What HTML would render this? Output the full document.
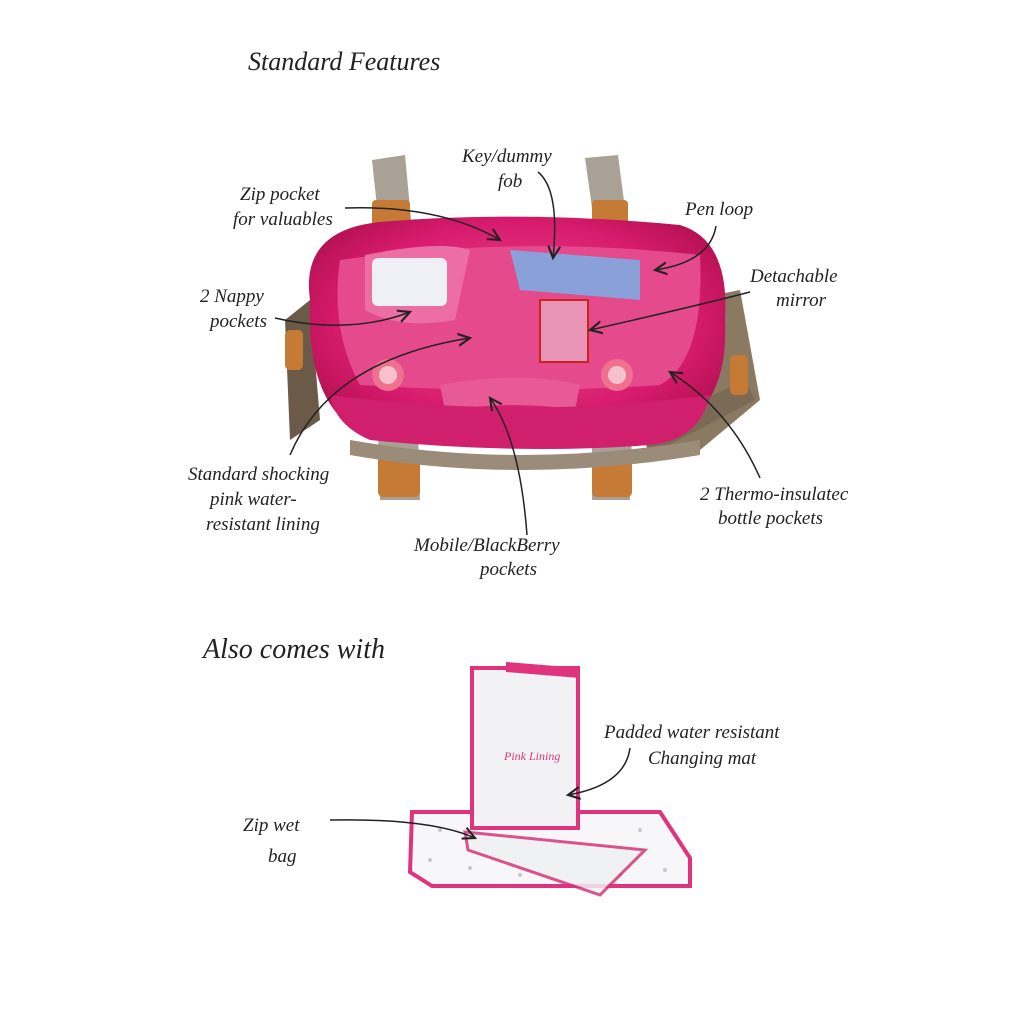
<!DOCTYPE html>
<html><head><meta charset="utf-8"><style>
html,body{margin:0;padding:0;background:#fff;}
svg{display:block}
text{font-family:"Liberation Serif",serif;font-style:italic;fill:#222;}
</style></head><body>
<svg width="1024" height="1024" viewBox="0 0 1024 1024" xmlns="http://www.w3.org/2000/svg">
<defs>
<marker id="a" markerWidth="10" markerHeight="10" refX="8" refY="5" orient="auto"><path d="M0,1 L8,5 L0,9" fill="none" stroke="#222" stroke-width="1.4"/></marker>
<radialGradient id="pk" cx="50%" cy="45%" r="60%"><stop offset="0" stop-color="#e8508e"/><stop offset="0.7" stop-color="#d81b6e"/><stop offset="1" stop-color="#b0104f"/></radialGradient>
</defs>
<rect width="1024" height="1024" fill="#fff"/>
<text x="248" y="70" font-size="26">Standard Features</text>
<text x="203" y="658" font-size="28">Also comes with</text>

<path d="M372,160 L405,155 L412,230 L380,235 Z" fill="#a9a196"/>
<path d="M585,158 L618,155 L628,232 L596,236 Z" fill="#a9a196"/>
<rect x="372" y="200" width="38" height="30" rx="4" fill="#c57a35"/>
<rect x="592" y="200" width="36" height="34" rx="4" fill="#c57a35"/>
<path d="M690,300 L740,290 L760,400 L700,450 L660,455 L650,420 L710,390 Z" fill="#8a7a62"/>
<path d="M640,430 L745,380 L755,400 L650,455 Z" fill="#7b6a55"/>
<path d="M285,320 L310,300 L320,420 L290,440 Z" fill="#6b5a48"/>
<rect x="285" y="330" width="18" height="40" rx="5" fill="#c57a35"/>
<rect x="730" y="355" width="18" height="40" rx="5" fill="#c57a35"/>
<path d="M378,430 L418,430 L420,500 L380,500 Z" fill="#a9a196"/>
<path d="M592,430 L632,430 L630,500 L592,500 Z" fill="#a9a196"/>
<rect x="378" y="455" width="42" height="42" rx="5" fill="#c57a35"/>
<rect x="592" y="455" width="40" height="42" rx="5" fill="#c57a35"/>
<path d="M350,440 Q520,470 700,440 L700,455 Q520,485 350,455 Z" fill="#9a8c78"/>
<path d="M310,300 Q300,230 380,222 Q520,210 680,225 Q730,240 725,320 Q730,420 650,440 Q520,455 380,440 Q305,420 310,300 Z" fill="url(#pk)"/>
<path d="M340,260 Q520,235 700,255 Q705,360 660,385 Q520,395 360,385 Q330,330 340,260 Z" fill="#e44a8c"/>
<path d="M365,255 Q440,240 470,250 L455,320 Q400,330 365,310 Z" fill="#ed6ea4"/>
<rect x="372" y="258" width="75" height="48" rx="6" fill="#eef0f6"/>
<path d="M510,250 L640,260 L640,300 L520,290 Z" fill="#8aa0d8"/>
<rect x="540" y="300" width="48" height="62" fill="#e894b6" stroke="#c22" stroke-width="2"/>
<circle cx="388" cy="375" r="16" fill="#f07090"/><circle cx="388" cy="375" r="9" fill="#f6c0cc"/>
<circle cx="617" cy="375" r="16" fill="#f07090"/><circle cx="617" cy="375" r="9" fill="#f6c0cc"/>
<path d="M440,385 Q520,370 580,385 L575,410 Q520,400 445,410 Z" fill="#e85a96"/>
<path d="M330,395 Q520,420 710,395 Q700,440 650,445 Q520,455 370,440 Q335,425 330,395 Z" fill="#d01f6c"/>

<!-- changing mat -->
<path d="M412,812 L660,812 L690,858 L690,886 L432,886 L410,872 Z" fill="#f7f7f9" stroke="#e0337e" stroke-width="4"/>
<g fill="#c8c8cc">
<circle cx="440" cy="830" r="2"/><circle cx="470" cy="868" r="2"/><circle cx="520" cy="875" r="2"/><circle cx="640" cy="830" r="2"/><circle cx="665" cy="870" r="2"/><circle cx="620" cy="875" r="2"/><circle cx="430" cy="860" r="2"/>
</g>
<path d="M465,832 L645,850 L600,895 L468,850 Z" fill="#eef0f2" stroke="#d7357a" stroke-width="3" opacity="0.85"/>
<rect x="472" y="668" width="106" height="160" fill="#f2f2f4" stroke="#e0337e" stroke-width="4"/>
<path d="M506,662 L580,668 L580,678 L506,672 Z" fill="#e0337e"/>
<text x="504" y="760" font-size="12" style="fill:#e0337e">Pink Lining</text>

<g font-size="19">
<text x="462" y="162">Key/dummy</text><text x="498" y="187">fob</text>
<text x="240" y="200">Zip pocket</text><text x="233" y="225">for valuables</text>
<text x="685" y="215">Pen loop</text>
<text x="750" y="282">Detachable</text><text x="776" y="306">mirror</text>
<text x="200" y="302">2 Nappy</text><text x="210" y="327">pockets</text>
<text x="188" y="480">Standard shocking</text><text x="210" y="505">pink water-</text><text x="206" y="530">resistant lining</text>
<text x="414" y="551">Mobile/BlackBerry</text><text x="480" y="575">pockets</text>
<text x="700" y="500">2 Thermo-insulatec</text><text x="718" y="524">bottle pockets</text>
<text x="604" y="738">Padded water resistant</text><text x="648" y="764">Changing mat</text>
<text x="243" y="831">Zip wet</text><text x="268" y="862">bag</text>
</g>
<g fill="none" stroke="#222" stroke-width="1.5" marker-end="url(#a)">
<path d="M538,172 Q560,190 553,258"/>
<path d="M345,208 Q440,205 500,240"/>
<path d="M716,226 Q710,262 655,270"/>
<path d="M750,292 Q700,305 590,330"/>
<path d="M275,318 Q350,335 410,312"/>
<path d="M290,455 Q330,360 470,338"/>
<path d="M527,535 Q520,440 490,398"/>
<path d="M760,478 Q730,410 670,372"/>
<path d="M630,748 Q625,785 568,795"/>
<path d="M330,820 Q430,818 475,838"/>
</g>
</svg>
</body></html>
